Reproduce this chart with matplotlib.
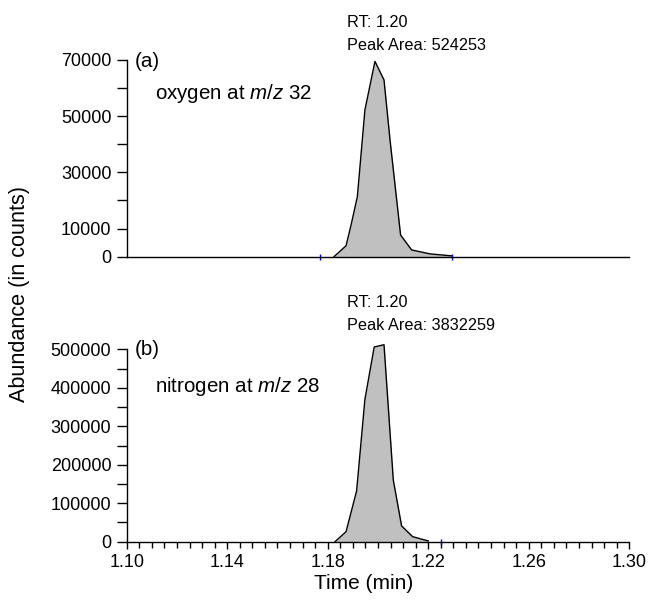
import matplotlib
matplotlib.use("Agg")
import matplotlib.pyplot as plt
from matplotlib.ticker import MultipleLocator

plt.rcParams['font.family'] = ['Liberation Sans', 'DejaVu Sans']
plt.rcParams['mathtext.fontset'] = 'custom'
plt.rcParams['mathtext.rm'] = 'Liberation Sans'
plt.rcParams['mathtext.it'] = 'Liberation Sans:italic'

# oxygen peak (m/z 32)
time_o2 = [1.1825, 1.1873, 1.1895, 1.1918, 1.1948, 1.1988, 1.2024, 1.2048, 1.2090, 1.2134, 1.2207, 1.2293]
abund_o2 = [0, 3900, 12100, 21400, 52200, 69500, 62900, 41500, 7700, 2400, 1000, 300]
marks_o2 = [1.1769, 1.2295]

# nitrogen peak (m/z 28)
time_n2 = [1.1829, 1.1873, 1.1915, 1.1948, 1.1985, 1.2024, 1.2061, 1.2094, 1.2138, 1.2200]
abund_n2 = [0, 26000, 132000, 370000, 506000, 512000, 160000, 41000, 13000, 2000]
marks_n2 = [1.2251]

yticks_o2 = [0, 10000, 20000, 30000, 40000, 50000, 60000, 70000]
ylabels_o2 = ['0', '10000', '', '30000', '', '50000', '', '70000']
yticks_n2 = [0, 50000, 100000, 150000, 200000, 250000, 300000, 350000, 400000, 450000, 500000]
ylabels_n2 = ['0', '', '100000', '', '200000', '', '300000', '', '400000', '', '500000']
xticks = [1.10, 1.14, 1.18, 1.22, 1.26, 1.30]
xlabels = ['1.10', '1.14', '1.18', '1.22', '1.26', '1.30']

panels = [
    ('(a)', 'oxygen at $\\mathit{m/z}$ 32', '524253', time_o2, abund_o2, marks_o2,
     70000, yticks_o2, ylabels_o2),
    ('(b)', 'nitrogen at $\\mathit{m/z}$ 28', '3832259', time_n2, abund_n2, marks_n2,
     500000, yticks_n2, ylabels_n2),
]

fig = plt.figure(figsize=(6.54, 6.07), dpi=100)
ax_top = fig.add_axes([0.1937, 0.5771, 0.7685, 0.3241])
ax_bot = fig.add_axes([0.1937, 0.1076, 0.7685, 0.3169])

for ax, (tag, name, area, t, y, marks, ymax, yt, yl) in zip([ax_top, ax_bot], panels):
    ax.fill_between(t, y, 0, color='#c0c0c0', linewidth=0, clip_on=False)
    ax.plot(t, y, color='black', linewidth=1.0, clip_on=False)
    ax.plot(marks, [0] * len(marks), linestyle='none', marker='|', color='blue',
            markersize=4, markeredgewidth=1.0, clip_on=False)
    ax.set_xlim(1.10, 1.30)
    ax.set_ylim(0, ymax)
    ax.spines['top'].set_visible(False)
    ax.spines['right'].set_visible(False)
    ax.spines['left'].set_linewidth(1.0)
    ax.spines['bottom'].set_linewidth(1.0)
    ax.set_yticks(yt)
    ax.set_yticklabels(yl)
    ax.tick_params(axis='y', direction='out', length=7, width=1.0, pad=4, labelsize=13)

    ax.text(0.017, 0.99 if ax is ax_top else 1.0, tag, transform=ax.transAxes,
            fontsize=14.8, va='center', ha='left')
    ax.text(0.056, 0.83 if ax is ax_top else 0.805, name, transform=ax.transAxes,
            fontsize=14.8, va='center', ha='left')

# annotations above peaks
ax_top.annotate('RT: 1.20', xy=(1.1875, 1.188), xycoords=('data', 'axes fraction'),
                fontsize=11.7, va='center', ha='left', annotation_clip=False)
ax_top.annotate('Peak Area: ' + panels[0][2], xy=(1.1875, 1.076), xycoords=('data', 'axes fraction'),
                fontsize=11.7, va='center', ha='left', annotation_clip=False)
ax_bot.annotate('RT: 1.20', xy=(1.1875, 1.241), xycoords=('data', 'axes fraction'),
                fontsize=11.7, va='center', ha='left', annotation_clip=False)
ax_bot.annotate('Peak Area: ' + panels[1][2], xy=(1.1875, 1.126), xycoords=('data', 'axes fraction'),
                fontsize=11.7, va='center', ha='left', annotation_clip=False)

# top panel has no x ticks
ax_top.tick_params(axis='x', bottom=False, labelbottom=False)

ax_bot.set_xticks(xticks)
ax_bot.set_xticklabels(xlabels)
ax_bot.xaxis.set_minor_locator(MultipleLocator(0.005))
ax_bot.tick_params(axis='x', which='major', direction='out', length=5, width=1.0, pad=4, labelsize=13)
ax_bot.tick_params(axis='x', which='minor', direction='out', length=4.5, width=1.0)
ax_bot.set_xlabel('Time (min)', fontsize=15)
ax_bot.xaxis.set_label_coords(0.472, -0.17)

fig.text(20 / 654, 1 - 294 / 607, 'Abundance (in counts)', rotation=90,
         fontsize=15.6, va='center', ha='center')

plt.savefig('out.png', dpi=100)
